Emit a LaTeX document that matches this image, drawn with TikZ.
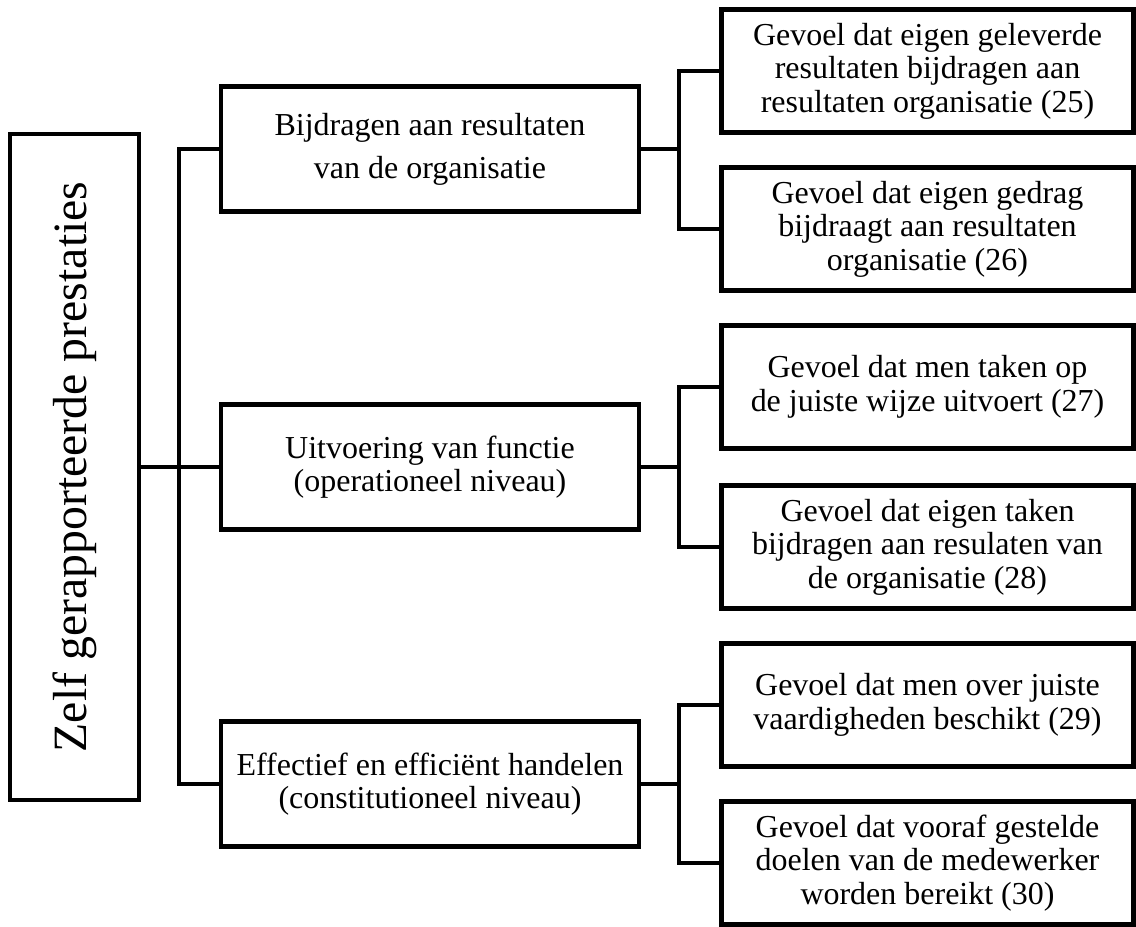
\documentclass[tikz,border=0pt]{standalone}
\usepackage{graphicx}
\usepackage{fontspec}
\setmainfont{Liberation Serif}
\usepackage{tikz}
\usetikzlibrary{positioning}

\tikzset{
  box/.style={draw, line width=1.3pt, align=center, font=\fontsize{9.1}{9.5}\selectfont},
  midbox/.style={box, minimum width=4.18cm, minimum height=1.25cm},
  leafbox/.style={box, minimum width=4.12cm, minimum height=1.23cm},
  link/.style={line width=1.3pt}
}

\begin{document}
\begin{tikzpicture}
                \useasboundingbox (0,0) rectangle (11.36,-9.27);

                % Main box
                \node[box, minimum width=1.29cm, minimum height=6.66cm] (zelf) at (0.745,-4.67)
                  {\rotatebox{90}{\fontsize{13.6}{14}\selectfont Zelf gerapporteerde prestaties}};

                % Middle level
                \node[midbox] (bijdragen) at (4.30,-1.49) {Bijdragen aan resultaten\\[2.8pt]van de organisatie};
                \node[midbox] (uitvoering) at (4.30,-4.67) {Uitvoering van functie\\(operationeel niveau)};
                \node[midbox] (effectief) at (4.30,-7.84) {Effectief en efficiënt handelen\\(constitutioneel niveau)};

                % Items
                \node[leafbox] (item25) at (9.275,-0.71) {Gevoel dat eigen geleverde\\resultaten bijdragen aan\\resultaten organisatie (25)};
                \node[leafbox] (item26) at (9.275,-2.29) {Gevoel dat eigen gedrag\\bijdraagt aan resultaten\\organisatie (26)};
                \node[leafbox] (item27) at (9.275,-3.87) {Gevoel dat men taken op\\de juiste wijze uitvoert (27)};
                \node[leafbox] (item28) at (9.275,-5.47) {Gevoel dat eigen taken\\bijdragen aan resulaten van\\de organisatie (28)};
                \node[leafbox] (item29) at (9.275,-7.05) {Gevoel dat men over juiste\\vaardigheden beschikt (29)};
                \node[leafbox] (item30) at (9.275,-8.63) {Gevoel dat vooraf gestelde\\doelen van de medewerker\\worden bereikt (30)};

                % Trunk
                \coordinate (trunk) at (1.79,-4.67);
                \draw[link] (zelf.east) -- (trunk);
                \draw[link] (bijdragen.west) -| (trunk) |- (effectief.west);
                \draw[link] (trunk) -- (uitvoering.west);

                % Branches
                \coordinate (tak1) at (6.79,-1.49);
                \coordinate (tak2) at (6.79,-4.67);
                \coordinate (tak3) at (6.79,-7.84);
                \draw[link] (bijdragen.east) -- (tak1);
                \draw[link] (item25.west) -| (tak1) |- (item26.west);
                \draw[link] (uitvoering.east) -- (tak2);
                \draw[link] (item27.west) -| (tak2) |- (item28.west);
                \draw[link] (effectief.east) -- (tak3);
                \draw[link] (item29.west) -| (tak3) |- (item30.west);
\end{tikzpicture}
\end{document}
